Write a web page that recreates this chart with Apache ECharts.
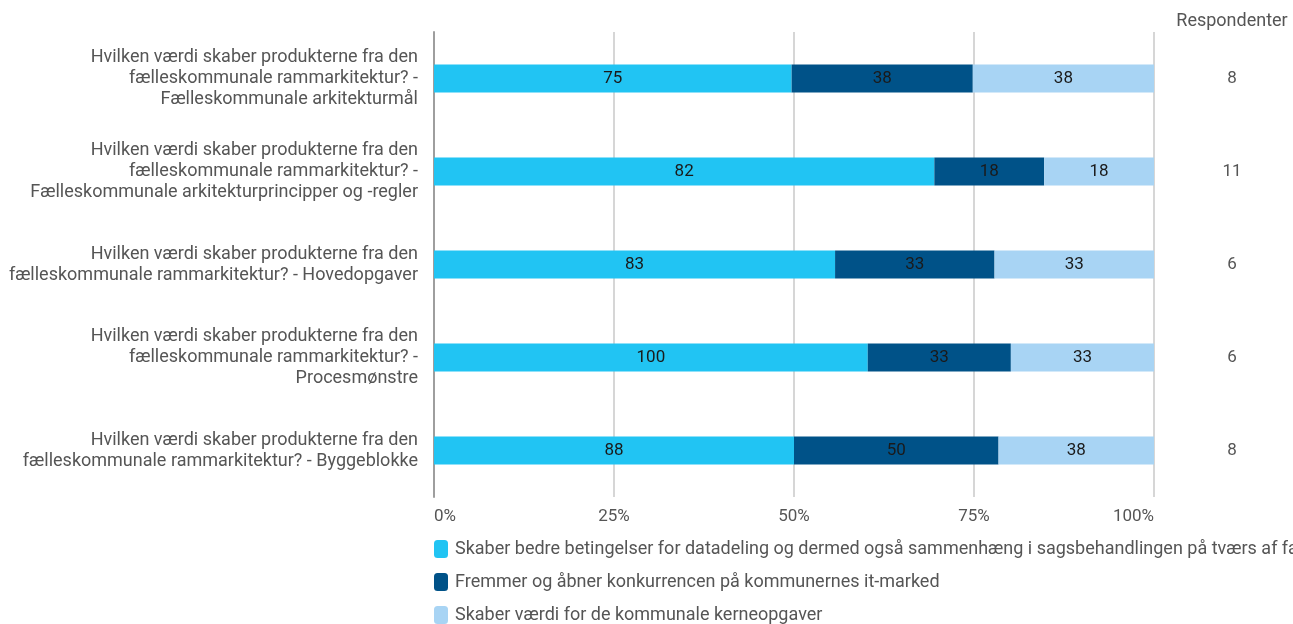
<!DOCTYPE html>
<html>
<head>
<meta charset="utf-8">
<script src="https://cdn.jsdelivr.net/npm/echarts@6/dist/echarts.min.js"></script>
<style>html,body{margin:0;padding:0;background:#fff}#c{width:1293px;height:624px}</style>
</head>
<body>
<div id="c"></div>
<script>
const categories = [
  "Hvilken værdi skaber produkterne fra den\nfælleskommunale rammarkitektur? -\nFælleskommunale arkitekturmål",
  "Hvilken værdi skaber produkterne fra den\nfælleskommunale rammarkitektur? -\nFælleskommunale arkitekturprincipper og -regler",
  "Hvilken værdi skaber produkterne fra den\nfælleskommunale rammarkitektur? - Hovedopgaver",
  "Hvilken værdi skaber produkterne fra den\nfælleskommunale rammarkitektur? -\nProcesmønstre",
  "Hvilken værdi skaber produkterne fra den\nfælleskommunale rammarkitektur? - Byggeblokke"
];
const seriesNames = [
  "Skaber bedre betingelser for datadeling og dermed også sammenhæng i sagsbehandlingen på tværs af fagområder",
  "Fremmer og åbner konkurrencen på kommunernes it-marked",
  "Skaber værdi for de kommunale kerneopgaver"
];
const s1 = [75, 82, 83, 100, 88];
const s2 = [38, 18, 33, 33, 50];
const s3 = [38, 18, 33, 33, 38];
const respondents = [8, 11, 6, 6, 8];
const colors = ["#21C4F3", "#005288", "#A8D4F4"];
const xTicks = [0, 25, 50, 75, 100];

const raw = [s1, s2, s3];
const totals = s1.map((v, i) => s1[i] + s2[i] + s3[i]);

const series = raw.map((arr, k) => ({
  name: seriesNames[k],
  type: 'bar',
  stack: 'total',
  barWidth: 28,
  itemStyle: { color: colors[k] },
  label: {
    show: true,
    position: 'inside',
    color: '#1a1a1a',
    fontFamily: 'Roboto',
    fontSize: 17,
    formatter: p => arr[p.dataIndex]
  },
  data: arr.map((v, i) => v / totals[i] * 100)
}));

const legendTops = [540, 573, 606];
const legends = seriesNames.map((n, k) => ({
  orient: 'vertical',
  left: 434,
  top: legendTops[k],
  padding: 0,
  itemWidth: 14,
  itemHeight: 18,
  icon: 'roundRect',
  selectedMode: false,
  textStyle: { color: '#555', fontSize: 18, fontFamily: 'Roboto', padding: [0, 0, 0, 2] },
  data: [n]
}));

const chart = echarts.init(document.getElementById('c'), null, { renderer: 'canvas' });
chart.setOption({
  animation: false,
  textStyle: { fontFamily: 'Roboto' },
  grid: { left: 434, right: 139, top: 32, bottom: 127, containLabel: false },
  legend: legends,
  xAxis: {
    type: 'value',
    min: 0,
    max: 100,
    interval: 25,
    axisLine: { show: false },
    axisTick: { show: false },
    splitLine: { show: true, lineStyle: { color: '#c8c8c8', width: 1.5 } },
    axisLabel: {
      color: '#555',
      fontSize: 17,
      margin: 11,
      alignMinLabel: 'left',
      alignMaxLabel: 'right',
      formatter: v => xTicks.includes(v) ? v + '%' : ''
    }
  },
  yAxis: [{
    type: 'category',
    inverse: true,
    data: categories,
    axisLine: { show: true, lineStyle: { color: '#9e9e9e', width: 2 } },
    axisTick: { show: false },
    axisLabel: { color: '#555', fontSize: 18, lineHeight: 21, margin: 16, align: 'right' }
  }, {
    type: 'category',
    inverse: true,
    position: 'right',
    data: respondents.map(String),
    name: 'Respondenter',
    nameLocation: 'start',
    nameGap: 2,
    nameTextStyle: { color: '#555', fontSize: 18, align: 'center', padding: [0, 0, 0, 156] },
    axisLine: { show: false },
    axisTick: { show: false },
    axisLabel: { color: '#555', fontSize: 17, margin: 78, align: 'center' }
  }],
  series: series
});
</script>
</body>
</html>
